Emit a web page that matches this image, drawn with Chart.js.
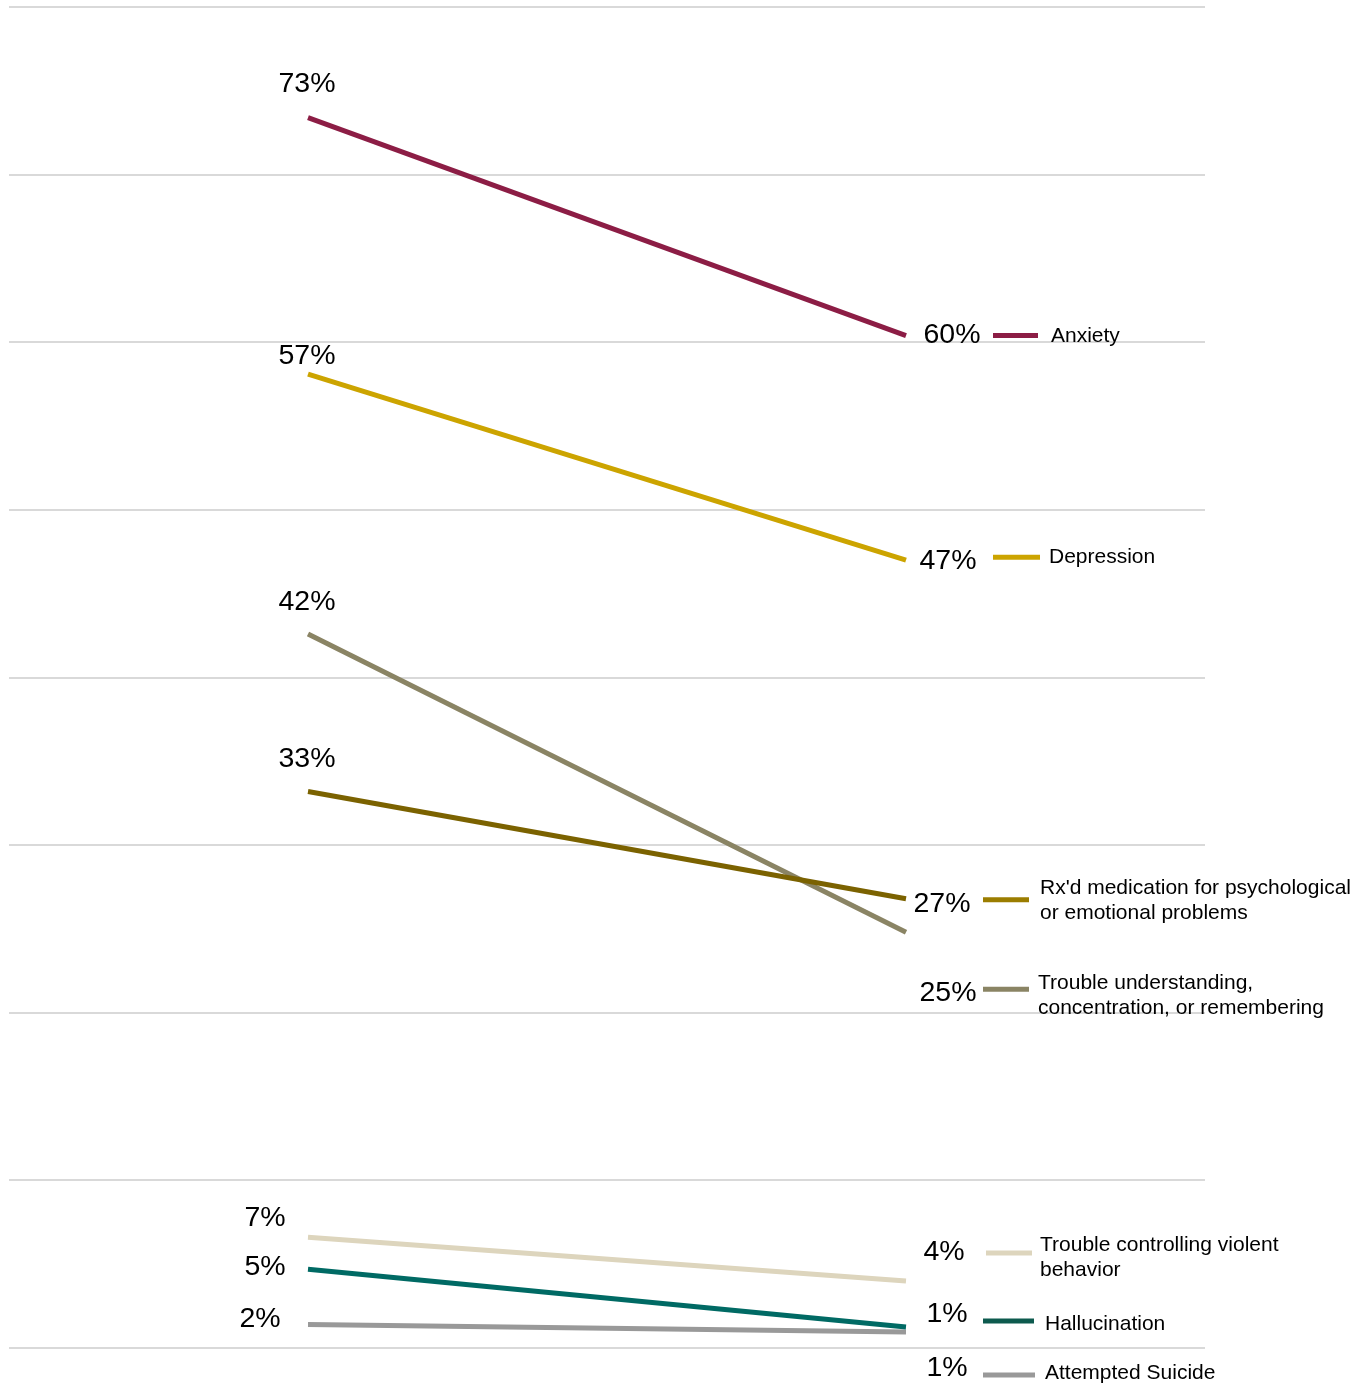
<!DOCTYPE html>
<html>
<head>
<meta charset="utf-8">
<script src="https://cdn.jsdelivr.net/npm/chart.js@4.4.1/dist/chart.umd.min.js"></script>
<style>
  html, body { margin: 0; padding: 0; background: #fff; }
  #wrap { width: 1372px; height: 1386px; position: relative; }
</style>
</head>
<body>
<div id="wrap"><canvas id="myChart"></canvas></div>
<script>
// two time points of the slope chart
const periods = [0, 1];

const seriesNames = [
    'Anxiety',
    'Depression',
    "Rx'd medication for psychological or emotional problems",
    'Trouble understanding, concentration, or remembering',
    'Trouble controlling violent behavior',
    'Hallucination',
    'Attempted Suicide'
];

// values (percent)
const startValues = [73.4, 58.1, 33.2, 42.6, 6.6, 4.7, 1.4];
const endValues = [60.4, 47.0, 26.8, 24.8, 4.0, 1.25, 0.95];

// value labels as printed on the chart
const startLabels = ['73%', '57%', '33%', '42%', '7%', '5%', '2%'];
const endLabels = ['60%', '47%', '27%', '25%', '4%', '1%', '1%'];

// legend text, split into lines as shown
const legendLines = [
    ['Anxiety'],
    ['Depression'],
    ["Rx'd medication for psychological", 'or emotional problems'],
    ['Trouble understanding,', 'concentration, or remembering'],
    ['Trouble controlling violent', 'behavior'],
    ['Hallucination'],
    ['Attempted Suicide']
];

const yMin = 0, yMax = 80, yStep = 10;

// styles
const lineColors = ['#8c1d45', '#cca400', '#7b6200', '#8a8464', '#ddd5bd', '#006a64', '#999999'];
const swatchColors = ['#8c1d45', '#cca400', '#9b7d00', '#8a8464', '#ddd5bd', '#0d5a4e', '#999999'];

// label / legend placement relative to the line end points (pixels)
const startOffsets = [[-1, -33], [-1, -18], [-1, -32], [-1, -32], [-43, -19], [-43, -2], [-48, -5]];
const endOffsets = [[46, 0], [42, 1], [36, 5], [42, 61], [38, -29], [41, -13], [41, 36]];
// [swatch x, swatch width, swatch y, text x, first text line y]
const legendPlace = [
    [87, 45, 0, 145, 1],
    [87, 47, -3, 143, -3],
    [77, 46, 1, 134, -11],
    [77, 46, 57, 132, 51],
    [80, 46, -28, 134, -36],
    [77, 51, -6, 139, -3],
    [77, 52, 43, 139, 41]
];

const FONT = "'Liberation Sans', Arial, sans-serif";

const slopeLabels = {
    id: 'slopeLabels',
    afterDatasetsDraw(chart) {
        const ctx = chart.ctx;
        const xs = chart.scales.x, ys = chart.scales.y;
        ctx.save();
        ctx.textBaseline = 'middle';
        seriesNames.forEach((name, i) => {
            const x0 = xs.getPixelForValue(periods[0]);
            const x1 = xs.getPixelForValue(periods[1]);
            const y0 = ys.getPixelForValue(startValues[i]);
            const y1 = ys.getPixelForValue(endValues[i]);

            ctx.fillStyle = '#000';
            ctx.font = '28.5px ' + FONT;
            ctx.textAlign = 'center';
            ctx.fillText(startLabels[i], x0 + startOffsets[i][0], y0 + startOffsets[i][1]);
            ctx.fillText(endLabels[i], x1 + endOffsets[i][0], y1 + endOffsets[i][1]);

            const p = legendPlace[i];
            ctx.strokeStyle = swatchColors[i];
            ctx.lineWidth = 5;
            ctx.lineCap = 'butt';
            ctx.beginPath();
            ctx.moveTo(x1 + p[0], y1 + p[2]);
            ctx.lineTo(x1 + p[0] + p[1], y1 + p[2]);
            ctx.stroke();

            ctx.font = '21px ' + FONT;
            ctx.textAlign = 'left';
            ctx.fillStyle = '#000';
            legendLines[i].forEach((line, k) => {
                ctx.fillText(line, x1 + p[3], y1 + p[4] + k * 25);
            });
        });
        ctx.restore();
    }
};

const ctx = document.getElementById('myChart').getContext('2d');

const chart = new Chart(ctx, {
    type: 'line',
    data: {
        datasets: seriesNames.map((name, i) => ({
            label: name,
            data: [
                { x: periods[0], y: startValues[i] },
                { x: periods[1], y: endValues[i] }
            ],
            borderColor: lineColors[i],
            backgroundColor: lineColors[i],
            borderWidth: 5,
            borderCapStyle: 'butt',
            pointRadius: 0,
            pointHoverRadius: 0,
            tension: 0,
            fill: false
        }))
    },
    options: {
        responsive: true,
        maintainAspectRatio: false,
        animation: false,
        layout: {
            padding: { left: 9, right: 167, top: 7, bottom: 38 }
        },
        plugins: {
            legend: { display: false },
            tooltip: { enabled: false }
        },
        scales: {
            x: {
                type: 'linear',
                min: -0.5,
                max: 1.5,
                display: false
            },
            y: {
                min: yMin,
                max: yMax,
                ticks: { display: false, stepSize: yStep },
                border: { display: false },
                grid: {
                    color: '#d9d9d9',
                    lineWidth: 2,
                    drawTicks: false
                }
            }
        }
    },
    plugins: [slopeLabels]
});
</script>
</body>
</html>
